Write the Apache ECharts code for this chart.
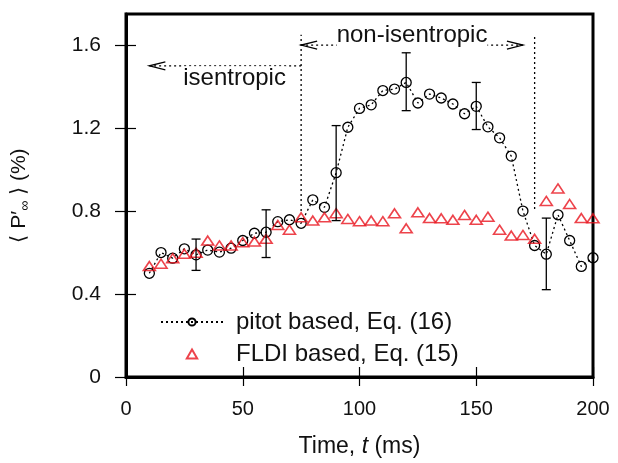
<!DOCTYPE html>
<html><head><meta charset="utf-8">
<script src="https://cdn.jsdelivr.net/npm/echarts@6/dist/echarts.min.js"></script>
<style>html,body{margin:0;padding:0;background:#fff}#c{width:618px;height:463px}</style>
</head><body><div id="c"></div>
<script>
// ---- data ----
const timeMs = [10,15,20,25,30,35,40,45,50,55,60,65,70,75,80,85,90,95,100,105,110,115,120,125,130,135,140,145,150,155,160,165,170,175,180,185,190,195,200];
const pitotVals = [0.50,0.60,0.573,0.618,0.589,0.612,0.602,0.621,0.658,0.693,0.698,0.749,0.758,0.741,0.854,0.818,0.985,1.204,1.295,1.312,1.381,1.388,1.42,1.321,1.364,1.345,1.316,1.269,1.305,1.206,1.153,1.065,0.80,0.634,0.592,0.782,0.658,0.533,0.575];
const fldiVals = [0.535,0.546,0.573,0.594,0.599,0.658,0.634,0.634,0.65,0.653,0.666,0.733,0.71,0.77,0.754,0.77,0.79,0.762,0.751,0.754,0.751,0.789,0.717,0.794,0.766,0.765,0.758,0.781,0.758,0.773,0.71,0.682,0.685,0.666,0.849,0.909,0.834,0.766,0.765];
const errT = [30,60,90,120,150,180];
const errLow = [0.514,0.576,0.754,1.284,1.193,0.421];
const errHigh = [0.665,0.806,1.212,1.563,1.42,0.766];
const xTicks = [0,50,100,150,200];
const yTicks = [0,0.4,0.8,1.2,1.6];
const seriesNames = ['pitot based, Eq. (16)','FLDI based, Eq. (15)'];
// annotations
const boundaryT = [75,175];
const boundaryLow = [0.80,0.81];
const boundaryHigh = [1.65,1.65];
const arrowFrom = [75,75];
const arrowTo = [10,170];
const arrowY = [1.5,1.6];
const arrowHeadFrom = [0,1];
const arrowHeadTo = [1,1];
const annoText = ['isentropic','non-isentropic'];
const annoT = [46.5,122.5];
const annoY = [1.44,1.645];

const FONT = '"Liberation Sans", Arial, Helvetica, sans-serif';
const RED = '#e8141e';
const TRI = 'path://M6,0 L12,10.4 L0,10.4 Z';
const chart = echarts.init(document.getElementById('c'), null, {renderer:'canvas'});

const dotted = {stroke:'#000', lineWidth:1.3, lineDash:[2,3]};

const option = {
  animation:false,
  backgroundColor:'#fff',
  textStyle:{fontFamily:FONT},
  grid:{left:126,right:25,top:14,bottom:84,show:true,borderColor:'#000',borderWidth:3,backgroundColor:'transparent'},
  legend:{
    orient:'vertical', left:155, top:305, itemWidth:62, itemHeight:9, itemGap:8,
    textStyle:{fontFamily:FONT,fontSize:24,color:'#111',padding:[0,0,0,8]},
    data:[{name:seriesNames[0]},{name:seriesNames[1],icon:TRI}]
  },
  xAxis:[
    {type:'value',min:0,max:200,interval:50,position:'bottom',
     name:'Time, {i|t} (ms)',nameLocation:'middle',nameGap:58,
     nameTextStyle:{fontFamily:FONT,fontSize:23,color:'#111',rich:{i:{fontFamily:FONT,fontSize:23,fontStyle:'italic',color:'#111'}}},
     axisLine:{show:true,lineStyle:{color:'#000',width:3}},
     axisTick:{show:true,inside:false,length:9,lineStyle:{color:'#000',width:1.2},customValues:xTicks},
     axisLabel:{fontFamily:FONT,fontSize:20,color:'#111',margin:22,customValues:xTicks},
     splitLine:{show:false}},
    {type:'value',min:0,max:200,interval:50,position:'top',
     axisLine:{show:false},
     axisTick:{show:true,inside:false,length:10,lineStyle:{color:'#000',width:1.2},customValues:xTicks},
     axisLabel:{show:false},splitLine:{show:false}}
  ],
  yAxis:[
    {type:'value',min:0,max:1.75,interval:0.4,position:'left',
     name:'⟨ P′{sub|∞} ⟩ (%)',nameLocation:'middle',nameGap:94,
     nameTextStyle:{fontFamily:FONT,fontSize:21,color:'#111',rich:{sub:{fontFamily:FONT,fontSize:14,color:'#111',padding:[11,0,0,0]}}},
     axisLine:{show:true,lineStyle:{color:'#000',width:3}},
     axisTick:{show:true,inside:false,length:11,lineStyle:{color:'#000',width:1.2},customValues:yTicks},
     axisLabel:{fontFamily:FONT,fontSize:21,color:'#111',margin:25,customValues:yTicks},
     splitLine:{show:false}},
    {type:'value',min:0,max:1.75,interval:0.4,position:'right',
     axisLine:{show:false},
     axisTick:{show:true,inside:false,length:10,lineStyle:{color:'#000',width:1.2},customValues:yTicks},
     axisLabel:{show:false},splitLine:{show:false}}
  ],
  series:[
    {
      name:'annotations-lines', type:'custom', silent:true, z:1,
      data: boundaryT.map((t,i)=>[t,boundaryLow[i],boundaryHigh[i]]),
      encode:{x:0,y:[1,2]},
      renderItem(params, api){
        const a = api.coord([api.value(0),api.value(1)]);
        const b = api.coord([api.value(0),api.value(2)]);
        return {type:'line',shape:{x1:a[0],y1:a[1],x2:b[0],y2:b[1]},style:dotted};
      }
    },
    {
      name:'annotations-arrows', type:'custom', silent:true, z:1,
      data: arrowFrom.map((t,i)=>[t,arrowTo[i],arrowY[i],arrowHeadFrom[i],arrowHeadTo[i]]),
      encode:{x:[0,1],y:2},
      renderItem(params, api){
        const a = api.coord([api.value(0),api.value(2)]);
        const b = api.coord([api.value(1),api.value(2)]);
        const kids = [{type:'line',shape:{x1:a[0],y1:a[1],x2:b[0],y2:b[1]},style:dotted}];
        const dir = Math.sign(b[0]-a[0]);
        const L = 16, H = 4;
        const head = (p, d) => ({type:'polyline',shape:{points:[[p[0]-d*L,p[1]-H],[p[0],p[1]],[p[0]-d*L,p[1]+H]]},style:{stroke:'#000',lineWidth:1.3,fill:null}});
        if (api.value(4)) kids.push(head(b, dir));
        if (api.value(3)) kids.push(head(a, -dir));
        return {type:'group',children:kids};
      }
    },
    {
      name:'annotations-text', type:'custom', silent:true, z:2,
      data: annoT.map((t,i)=>[t,annoY[i],i]),
      encode:{x:0,y:1},
      renderItem(params, api){
        const p = api.coord([api.value(0),api.value(1)]);
        return {type:'text',x:p[0],y:p[1],style:{text:annoText[api.value(2)],fontFamily:FONT,fontSize:24,fill:'#111',align:'center',verticalAlign:'middle',backgroundColor:'#fff'}};
      }
    },
    {
      name:seriesNames[0], type:'line', z:3,
      data: timeMs.map((t,i)=>[t,pitotVals[i]]),
      symbol:'circle', symbolSize:10,
      itemStyle:{color:'rgba(255,255,255,0)',borderColor:'#000',borderWidth:1.3},
      lineStyle:{color:'#000',width:1.3,type:[2,3]}
    },
    {
      name:seriesNames[1], type:'scatter', z:4,
      data: timeMs.map((t,i)=>[t,fldiVals[i]]),
      symbol:TRI, symbolSize:[12,10.4], symbolKeepAspect:true,
      itemStyle:{color:'rgba(255,255,255,0)',borderColor:RED,borderWidth:1.6}
    },
    {
      name:'errorbars', type:'custom', z:5,
      data: errT.map((t,i)=>[t,errLow[i],errHigh[i]]),
      encode:{x:0,y:[1,2]},
      renderItem(params, api){
        const a = api.coord([api.value(0),api.value(1)]);
        const b = api.coord([api.value(0),api.value(2)]);
        const w = 4.5, st = {stroke:'#000',lineWidth:1.3};
        return {type:'group',children:[
          {type:'line',shape:{x1:a[0],y1:a[1],x2:b[0],y2:b[1]},style:st},
          {type:'line',shape:{x1:a[0]-w,y1:a[1],x2:a[0]+w,y2:a[1]},style:st},
          {type:'line',shape:{x1:b[0]-w,y1:b[1],x2:b[0]+w,y2:b[1]},style:st}
        ]};
      }
    }
  ]
};
chart.setOption(option);
</script></body></html>
